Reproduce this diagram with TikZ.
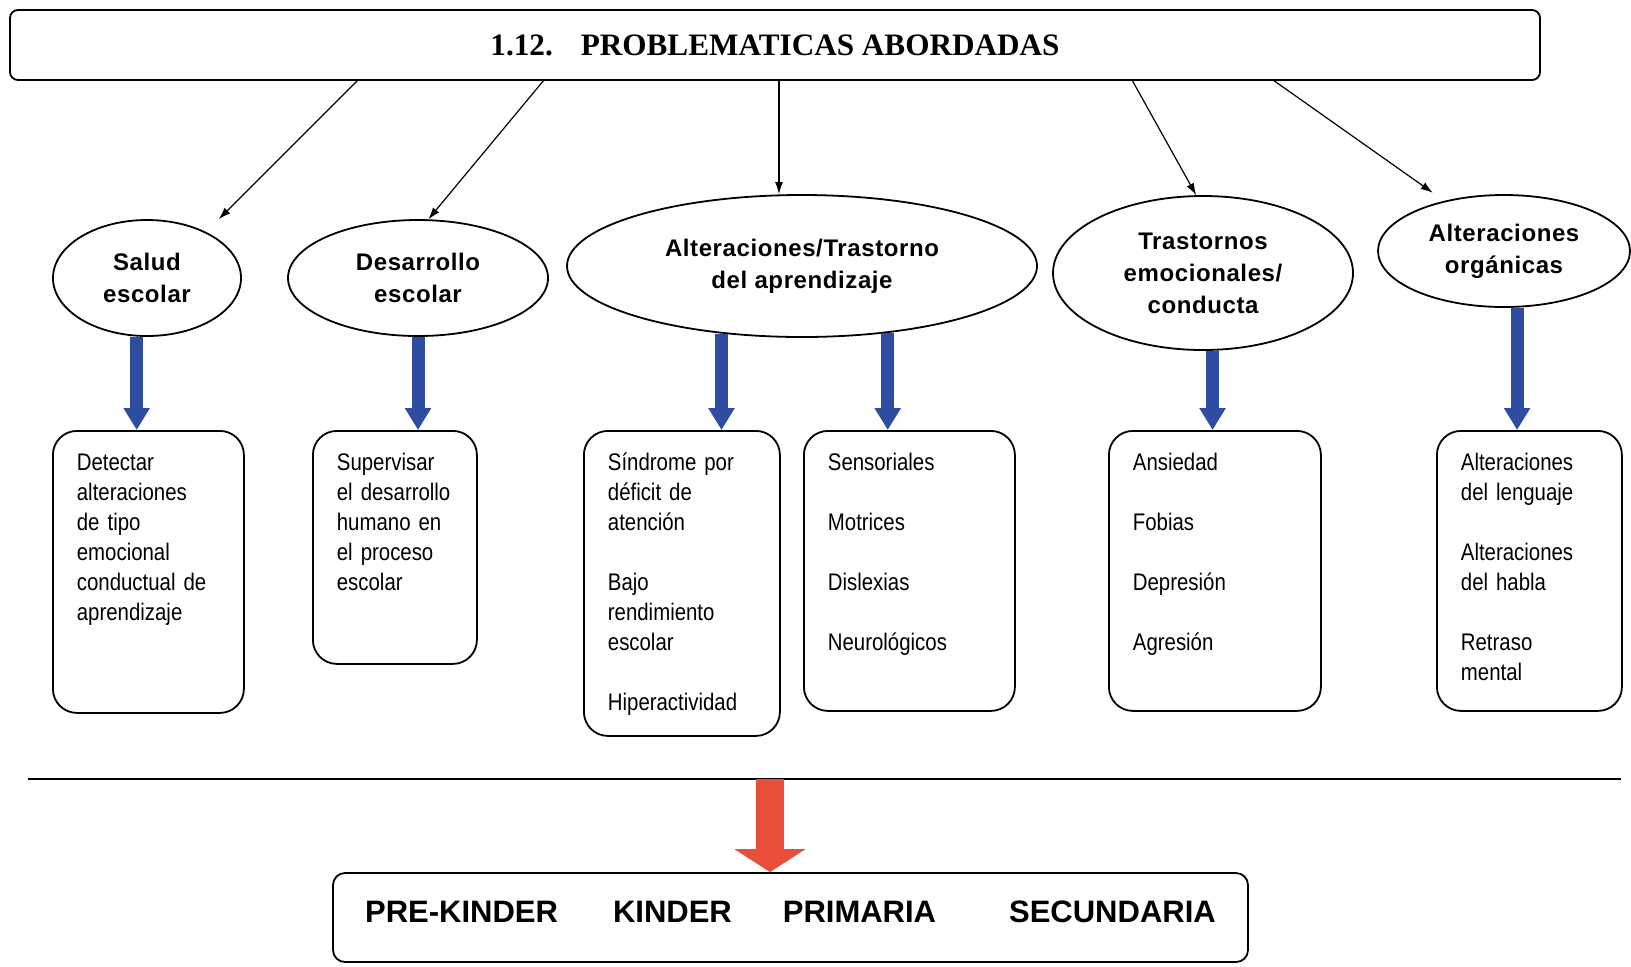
\documentclass[tikz,border=0pt]{standalone}
\usepackage{fontspec}
\setmainfont{Liberation Sans}
\newfontfamily\titlefont{Liberation Serif}
\newfontfamily\ellfont[LetterSpace=2.5]{Liberation Sans}
\newfontfamily\boxfont[FakeStretch=0.85]{Liberation Sans}
\usetikzlibrary{shapes.geometric,arrows.meta,calc}
\definecolor{bluefill}{RGB}{46,76,160}
\definecolor{redfill}{RGB}{232,78,58}

\begin{document}
\begin{tikzpicture}[
  x=0.5pt, y=-0.5pt,
  myell/.style={
    draw,
    ellipse,
    line width=0.9pt,
    fill=white,
    inner sep=0pt,
    align=center,
    font=\ellfont\bfseries\fontsize{12}{16}\selectfont
    },
  mybox/.style 2 args={
    draw,
    rounded corners=12pt,
    line width=0.9pt,
    anchor=north west,
    align=left,
    inner xsep=12pt,
    inner ysep=0pt,
    text width=#1,
    text height=20pt,
    text depth=#2,
    font=\boxfont\fontsize{12}{15}\selectfont
    },
  mythin/.style={line width=0.6pt, -{Latex[length=6pt,width=4pt]}},
  bluearr/.style={line width=6.5pt, draw=bluefill, -{Triangle[width=12.5pt,length=11pt]}},
  redarr/.style={line width=14pt, draw=redfill, -{Triangle[width=35pt,length=11.5pt]}}
]
\useasboundingbox (0,0) rectangle (1631,966);
\fill[white] (0,0) rectangle (1631,966);

\node[draw, rounded corners=4pt, line width=0.9pt, minimum width=765pt, minimum height=35pt,
  font=\titlefont\bfseries\fontsize{15.6}{18}\selectfont] (tit) at (775,45)
  {1.12.\hspace{14pt}PROBLEMATICAS ABORDADAS};

\node[myell, minimum width=94pt, minimum height=58pt] (sal) at (147,278) {Salud\\escolar};
\node[myell, minimum width=130pt, minimum height=58pt] (des) at (418,278) {Desarrollo\\escolar};
\node[myell, minimum width=235pt, minimum height=71pt] (ald) at (802,266) {Alteraciones/Trastorno\\del aprendizaje};
\node[myell, minimum width=150pt, minimum height=77pt] (tra) at (1203,273) {Trastornos\\emocionales/\\conducta};
\node[myell, minimum width=126pt, minimum height=56pt] (org) at (1504,251) {Alteraciones\\orgánicas};

\node[mybox={71.5pt}{121pt}] (det) at (52,430)
  {Detectar\\alteraciones\\de tipo\\emocional\\conductual de\\aprendizaje};
\node[mybox={58pt}{96.5pt}] (sup) at (312,430)
  {Supervisar\\el desarrollo\\humano en\\el proceso\\escolar};
\node[mybox={74pt}{132.5pt}] (sin) at (583,430)
  {Síndrome por\\déficit de\\atención\\[15pt]Bajo\\rendimiento\\escolar\\[15pt]Hiperactividad};
\node[mybox={81.5pt}{120pt}] (sen) at (803,430)
  {Sensoriales\\[15pt]Motrices\\[15pt]Dislexias\\[15pt]Neurológicos};
\node[mybox={82pt}{120pt}] (ans) at (1108,430)
  {Ansiedad\\[15pt]Fobias\\[15pt]Depresión\\[15pt]Agresión};
\node[mybox={68.5pt}{120pt}] (lan) at (1436,430)
  {Alteraciones\\del lenguaje\\[15pt]Alteraciones\\del habla\\[15pt]Retraso\\mental};

\coordinate (t1) at (358,80);
\coordinate (t2) at (544,80);
\coordinate (t3) at (779,80);
\coordinate (t4) at (1132,80);
\coordinate (t5) at (1273,80);
\draw[mythin, shorten >=9pt] (t1) -- (sal.38);
\draw[mythin] (t2) -- (des.80);
\draw[mythin] (t3) -- (t3 |- ald.north);
\draw[mythin] (t4) -- (tra.95);
\draw[mythin, shorten >=7pt] (t5) -- (org.140);

\draw[bluearr] (sal.260) -- (sal.260 |- det.north);
\draw[bluearr] (des.south) -- (des.south |- sup.north);
\draw[bluearr] (ald.220) -- (ald.220 |- sin.north);
\draw[bluearr] (ald.322) -- (ald.322 |- sen.north);
\draw[bluearr] (tra.277) -- (tra.277 |- ans.north);
\draw[bluearr] (org.283) -- (org.283 |- lan.north);

\coordinate (l1) at (28,779);
\coordinate (l2) at (1621,779);
\draw[line width=1pt] (l1) -- (l2);

\node[draw, rounded corners=6pt, line width=0.9pt, minimum width=457.5pt, minimum height=44.5pt,
  text height=11pt, text depth=6pt, font=\bfseries\fontsize{15.5}{18}\selectfont] (bot) at (790.5,917.5)
  {PRE-KINDER\hspace{27.5pt}KINDER\hspace{25.5pt}PRIMARIA\hspace{36.5pt}SECUNDARIA};
\coordinate (r0) at (770,779);
\draw[redarr] (r0) -- (r0 |- bot.north);
\end{tikzpicture}
\end{document}
